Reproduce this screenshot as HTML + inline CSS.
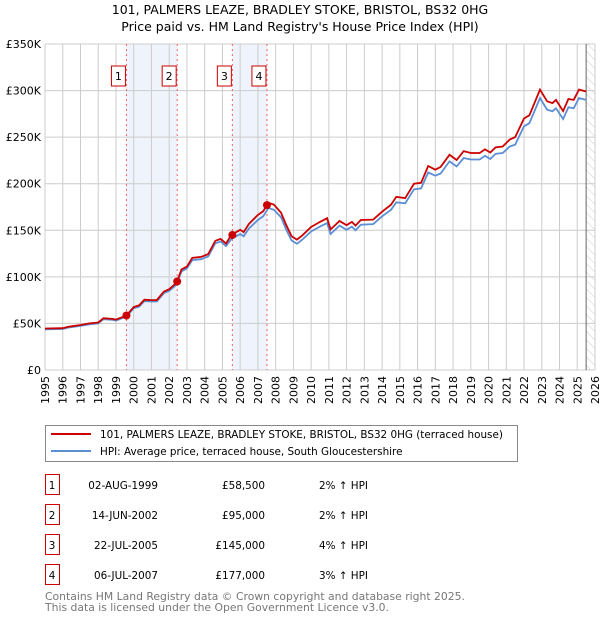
<!DOCTYPE html>
<html><head><meta charset="utf-8"><style>
body{margin:0;background:#fff;font-family:"DejaVu Sans","Liberation Sans",sans-serif;}
svg text{font-family:"DejaVu Sans","Liberation Sans",sans-serif;}
</style></head><body>
<svg id="c" width="600" height="620" xmlns="http://www.w3.org/2000/svg">
<defs><pattern id="hatch" width="6" height="6" patternUnits="userSpaceOnUse" patternTransform="rotate(-45)"><line x1="0" y1="0" x2="0" y2="6" stroke="#ccc" stroke-width="1"/></pattern></defs>
<text x="300" y="14" text-anchor="middle" font-size="12.5" fill="#000">101, PALMERS LEAZE, BRADLEY STOKE, BRISTOL, BS32 0HG</text>
<text x="300" y="31" text-anchor="middle" font-size="12.5" fill="#000">Price paid vs. HM Land Registry's House Price Index (HPI)</text>
<g id="plot"></g>
<g>
<rect x="45.5" y="425.5" width="472" height="36" fill="#fff" stroke="#888"/>
<line x1="51" y1="434" x2="91" y2="434" stroke="#cc0000" stroke-width="2"/>
<text x="100" y="438" font-size="10.4">101, PALMERS LEAZE, BRADLEY STOKE, BRISTOL, BS32 0HG (terraced house)</text>
<line x1="51" y1="451" x2="91" y2="451" stroke="#5b8fd4" stroke-width="2"/>
<text x="100" y="455" font-size="10.4">HPI: Average price, terraced house, South Gloucestershire</text>
</g>
<g id="table"></g>
<text x="45" y="600" font-size="10.8" fill="#777">Contains HM Land Registry data © Crown copyright and database right 2025.</text>
<text x="45" y="611" font-size="10.8" fill="#777">This data is licensed under the Open Government Licence v3.0.</text>
</svg>
<script>
const hpiYears=[1995,1996,1996.3,1997,1997.5,1998,1998.3,1998.8,1999,1999.6,2000,2000.3,2000.6,2001,2001.3,2001.7,2002,2002.4,2002.7,2003,2003.3,2003.8,2004.2,2004.6,2004.9,2005.2,2005.5,2006,2006.2,2006.5,2007,2007.3,2007.6,2007.9,2008.3,2008.6,2008.9,2009.2,2009.5,2010,2010.5,2010.9,2011.1,2011.6,2012,2012.3,2012.5,2012.8,2013.5,2014,2014.5,2014.8,2015.3,2015.8,2016.2,2016.6,2017,2017.3,2017.8,2018.2,2018.6,2019,2019.5,2019.8,2020.1,2020.4,2020.8,2021.2,2021.5,2022,2022.3,2022.9,2023.3,2023.6,2023.8,2024.2,2024.5,2024.8,2025.1,2025.5];
const hpiValues=[43.7,44,45.5,47.3,49,50,54.5,53.8,53,57.4,66.3,68,74,73.5,73.5,82.5,85,91.5,106,109,118,119,122,136,138,133,140.5,146,143.5,152,161,165,174,172,164,150.6,139,135.5,140,148.7,154,157.7,146,155,150.5,154,150,156,156.6,165,172,180,179,194,195,212,208.6,211,224,218.6,227.6,226,226,230,226.5,232,233,240,242,261.6,265,292,279.5,277.8,281,269.5,282,281,292,290];
const priceValues=[44.6,44.9,46.4,48.3,50,51,55.6,54.9,54.1,58.6,67.6,69.4,75.5,75,75,84.2,86.7,93.4,108,111,120.4,121.4,124.4,138.7,140.8,135.7,145,150.5,148,157,166.5,170.5,179.5,177.5,169,155.5,143.5,140,144.5,153.5,159,163,151,160,155.5,159,155,161,161.5,170,177.5,186,184.5,200,201,219,215,218,231,225.5,235,233,233,237,233.5,239,240,247.5,250,270,273.5,301,288.5,286.5,290,278,291,290,301,299];
const sales=[{n:"1",t:1999.59,v:58.5,date:"02-AUG-1999",price:"£58,500",pct:"2% ↑ HPI"},{n:"2",t:2002.45,v:95,date:"14-JUN-2002",price:"£95,000",pct:"2% ↑ HPI"},{n:"3",t:2005.56,v:145,date:"22-JUL-2005",price:"£145,000",pct:"4% ↑ HPI"},{n:"4",t:2007.51,v:177,date:"06-JUL-2007",price:"£177,000",pct:"3% ↑ HPI"}];
const yTicks=[0,50,100,150,200,250,300,350];
const yTickLabels=["£0","£50K","£100K","£150K","£200K","£250K","£300K","£350K"];
const xStart=1995,xEnd=2026,dataEnd=2025.5;
const L=45,R=595,T=44,B=370;
const xs=t=>L+(t-xStart)/(xEnd-xStart)*(R-L);
const ys=v=>B-v/350*(B-T);
const NS="http://www.w3.org/2000/svg";
const g=document.getElementById('plot');
function mk(tag,attrs,parent){const e=document.createElementNS(NS,tag);for(const k in attrs)e.setAttribute(k,attrs[k]);(parent||g).appendChild(e);return e;}
for(let i=0;i<sales.length;i+=2){const r=mk('rect',{x:xs(sales[i].t),y:T,width:xs(sales[i+1].t)-xs(sales[i].t),height:B-T,fill:'#eef3fc'});

}
for(let y=xStart;y<=xEnd;y++){const l=mk('line',{x1:xs(y),x2:xs(y),y1:T,y2:B,stroke:'#ccc','stroke-width':1});


const tx=mk('text',{x:0,y:0,'font-size':11,'text-anchor':'end',transform:`translate(${xs(y)+4},${B+6}) rotate(-90)`});tx.textContent=y;

}
yTicks.forEach((v,i)=>{const l=mk('line',{x1:L,x2:R,y1:ys(v),y2:ys(v),stroke:'#ccc','stroke-width':1});


const tx=mk('text',{x:L-4,y:ys(v)+4,'font-size':11,'text-anchor':'end'});tx.textContent=yTickLabels[i];

});
const h=mk('rect',{x:xs(dataEnd),y:T,width:R-xs(dataEnd),height:B-T,fill:'url(#hatch)'});


const hl=mk('line',{x1:xs(dataEnd),x2:xs(dataEnd),y1:T,y2:B,stroke:'#666','stroke-width':1});


sales.forEach(s=>{const l=mk('line',{x1:xs(s.t),x2:xs(s.t),y1:T,y2:B,stroke:'#f06060','stroke-width':1,'stroke-dasharray':'2,3'});


const bx=mk('rect',{x:xs(s.t)-15,y:66,width:14,height:20,fill:'#fff',stroke:'#cc0000'});


const tx=mk('text',{x:xs(s.t)-8,y:80,'font-size':11,'text-anchor':'middle'});tx.textContent=s.n;

});
function path(vals){return hpiYears.map((t,i)=>(i?'L':'M')+xs(t).toFixed(1)+','+ys(vals[i]).toFixed(1)).join('');}
const pb=mk('path',{d:path(hpiValues),fill:'none',stroke:'#5b8fd4','stroke-width':1.8});


const pr=mk('path',{d:path(priceValues),fill:'none',stroke:'#cc0000','stroke-width':1.8});


sales.forEach(s=>{const c=mk('circle',{cx:xs(s.t),cy:ys(s.v),r:4,fill:'#cc0000'});

});
const tb=document.getElementById('table');
sales.forEach((s,i)=>{const y=483+i*30;
const b=mk('rect',{x:45.5,y:y-8.5,width:14,height:20,fill:'#fff',stroke:'#cc0000'},tb);


const a=mk('text',{x:52,y:y+6,'font-size':10.4,'text-anchor':'middle'},tb);a.textContent=s.n;


const d=mk('text',{x:158,y:y+6,'font-size':10.4,'text-anchor':'end'},tb);d.textContent=s.date;


const p=mk('text',{x:265,y:y+6,'font-size':10.4,'text-anchor':'end'},tb);p.textContent=s.price;


const q=mk('text',{x:319,y:y+6,'font-size':10.4},tb);q.textContent=s.pct;

});
</script>
</body></html>
